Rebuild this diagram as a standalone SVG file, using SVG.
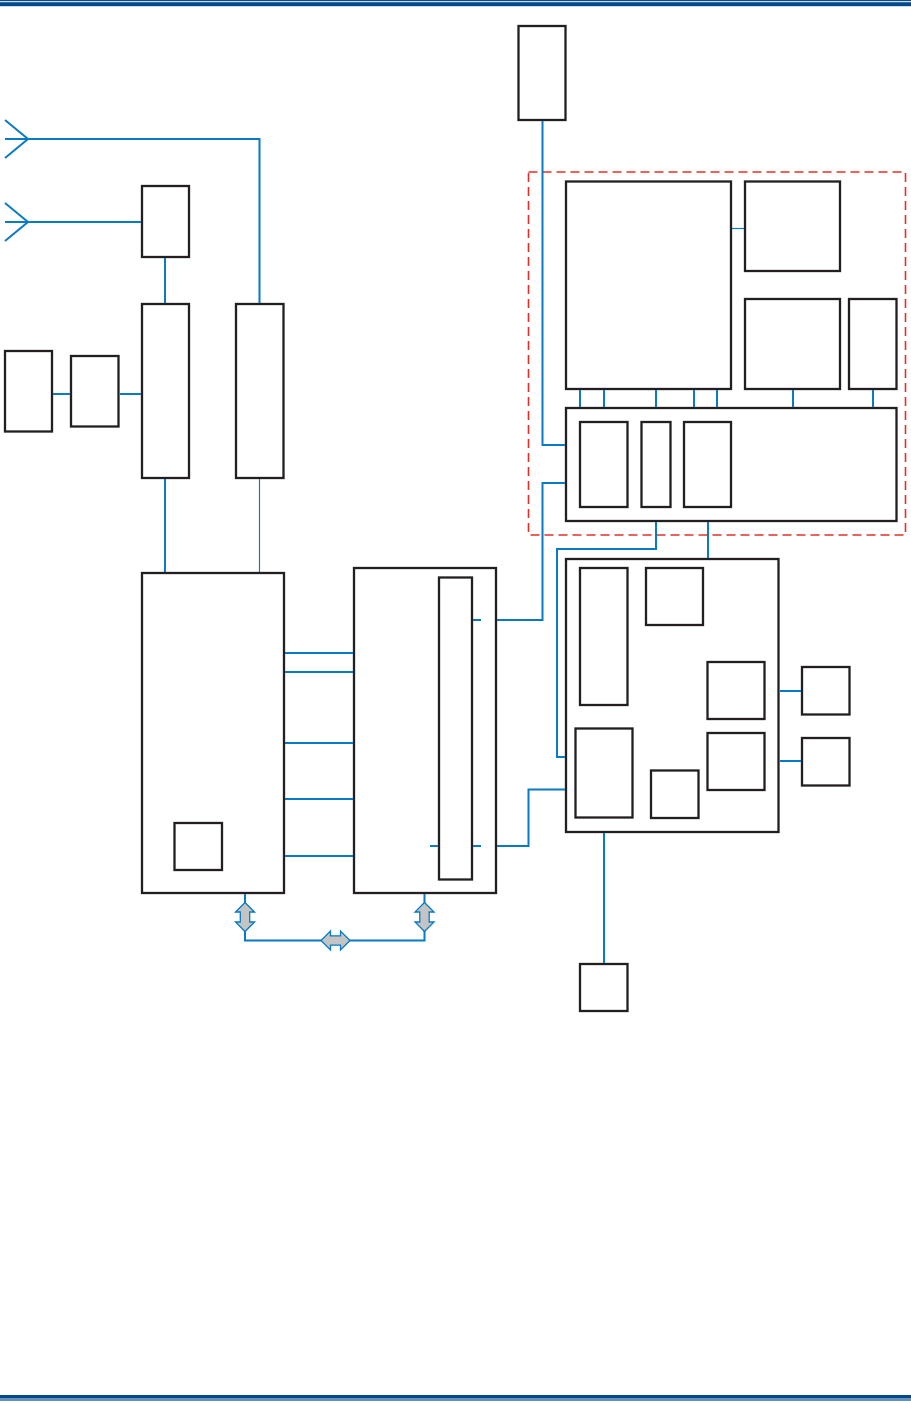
<svg xmlns="http://www.w3.org/2000/svg" width="911" height="1403" viewBox="0 0 911 1403">
<style>
.b{fill:#fff;stroke:#231f20;stroke-width:2.3}
.c{fill:none;stroke:#0a7ac4;stroke-width:2}
.t{fill:none;stroke:#0a7ac4;stroke-width:1.2}
.a{fill:#c4c4c4;stroke:#0a7ac4;stroke-width:1.3;stroke-linejoin:miter}
.rule{fill:#004a8d}
</style>
<defs>
<path id="dbl" d="M0,-14.5 L9.5,-5 L4.7,-5 L4.7,5 L9.5,5 L0,14.5 L-9.5,5 L-4.7,5 L-4.7,-5 L-9.5,-5 Z"/>
</defs>
<rect width="911" height="1403" fill="#fff"/>
<g id="frame">
<rect class="rule" x="0" y="0" width="911" height="1.2"/>
<rect class="rule" x="0" y="2.2" width="911" height="4"/>
<rect class="rule" x="0" y="1395" width="911" height="3.6"/>
<rect class="rule" x="0" y="1399.4" width="911" height="1.2"/>
</g>
<g id="boundary">
<rect x="528.5" y="172" width="377" height="363" fill="none" stroke="#e0302a" stroke-width="1.6" stroke-dasharray="9,5"/>
</g>
<g id="node-q"><rect class="b" x="518.5" y="26" width="47" height="94"/></g>
<g id="node-a"><rect class="b" x="142" y="186" width="47" height="71"/></g>
<g id="node-b"><rect class="b" x="142" y="304" width="47" height="174"/></g>
<g id="node-c"><rect class="b" x="236" y="304" width="47.5" height="174"/></g>
<g id="node-d"><rect class="b" x="5" y="351" width="47" height="80.5"/></g>
<g id="node-e"><rect class="b" x="71" y="356" width="47.5" height="70.5"/></g>
<g id="node-f"><rect class="b" x="142" y="573" width="142" height="320"/><rect class="b" x="174.5" y="823" width="47.5" height="47"/></g>
<g id="node-g"><rect class="b" x="354" y="568" width="142" height="325"/><rect class="b" x="439" y="577.5" width="33" height="302"/></g>
<g id="node-m"><rect class="b" x="566" y="181.5" width="165" height="207.5"/></g>
<g id="node-n"><rect class="b" x="745" y="181.5" width="95" height="89.5"/></g>
<g id="node-o"><rect class="b" x="745" y="299" width="95" height="90"/></g>
<g id="node-p"><rect class="b" x="849" y="299" width="47.5" height="90"/></g>
<g id="node-j"><rect class="b" x="566" y="408" width="330.5" height="113"/><rect class="b" x="580" y="422" width="47.5" height="85"/><rect class="b" x="641.5" y="422" width="29" height="85"/><rect class="b" x="684" y="422" width="47" height="85"/></g>
<g id="node-i"><rect class="b" x="566" y="559" width="212.5" height="273"/><rect class="b" x="580" y="568" width="47.5" height="137"/><rect class="b" x="646" y="568" width="57" height="57"/><rect class="b" x="707.5" y="662" width="57" height="57"/><rect class="b" x="707.5" y="733" width="57" height="57"/><rect class="b" x="575.5" y="728.5" width="57" height="89"/><rect class="b" x="651" y="770.5" width="47.5" height="47.5"/></g>
<g id="node-k1"><rect class="b" x="802" y="667" width="47.5" height="47.5"/></g>
<g id="node-k2"><rect class="b" x="802" y="738" width="47.5" height="47.5"/></g>
<g id="node-l"><rect class="b" x="580" y="964" width="47.5" height="47"/></g>
<g id="connectors">
<polyline class="c" points="5,120 28,139 5,158"/>
<polyline class="c" points="5,203 28,222 5,241"/>
<polyline class="c" points="5,139 259.5,139 259.5,303"/>
<line class="c" x1="5" y1="222" x2="141" y2="222"/>
<line class="c" x1="165" y1="258" x2="165" y2="303"/>
<line class="c" x1="53" y1="394" x2="70" y2="394"/>
<line class="c" x1="120" y1="394" x2="141" y2="394"/>
<line class="c" x1="165" y1="479" x2="165" y2="572"/>
<line class="t" x1="259.5" y1="479" x2="259.5" y2="572"/>
<line class="c" x1="285" y1="653" x2="353" y2="653"/>
<line class="c" x1="285" y1="672" x2="353" y2="672"/>
<line class="c" x1="285" y1="743" x2="353" y2="743"/>
<line class="c" x1="285" y1="799" x2="353" y2="799"/>
<line class="c" x1="285" y1="856" x2="353" y2="856"/>
<line class="c" x1="473" y1="620" x2="481" y2="620"/>
<line class="c" x1="430" y1="846" x2="438" y2="846"/>
<line class="c" x1="473" y1="846" x2="481" y2="846"/>
<polyline class="c" points="497,620 542.5,620 542.5,483 565,483"/>
<polyline class="c" points="542.5,121 542.5,445 565,445"/>
<polyline class="c" points="497,846 528.5,846 528.5,789.5 565,789.5"/>
<polyline class="c" points="656,522 656,549 557,549 557,757 565,757"/>
<line class="c" x1="708" y1="522" x2="708" y2="558"/>
<line class="t" x1="732" y1="228.5" x2="744" y2="228.5"/>
<line class="c" x1="580" y1="390" x2="580" y2="407"/>
<line class="c" x1="604" y1="390" x2="604" y2="407"/>
<line class="c" x1="656" y1="390" x2="656" y2="407"/>
<line class="c" x1="694" y1="390" x2="694" y2="407"/>
<line class="c" x1="717" y1="390" x2="717" y2="407"/>
<line class="c" x1="793" y1="390" x2="793" y2="407"/>
<line class="c" x1="873" y1="390" x2="873" y2="407"/>
<line class="c" x1="780" y1="691" x2="801" y2="691"/>
<line class="c" x1="780" y1="761" x2="801" y2="761"/>
<line class="c" x1="604" y1="833" x2="604" y2="963"/>
<polyline class="c" points="245,894 245,940.5 424.5,940.5 424.5,894"/>
<use href="#dbl" class="a" transform="translate(245,917)"/>
<use href="#dbl" class="a" transform="translate(424.5,917)"/>
<use href="#dbl" class="a" transform="translate(335.5,940.5) rotate(90)"/>
</g>
</svg>
